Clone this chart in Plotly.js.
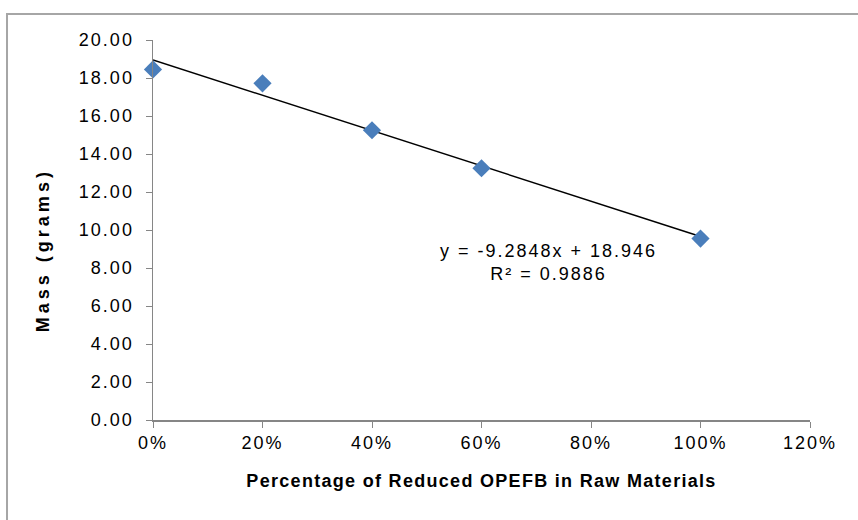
<!DOCTYPE html>
<html>
<head>
<meta charset="utf-8">
<script src="https://cdn.plot.ly/plotly-3.0.1.min.js"></script>
<style>
html,body{margin:0;padding:0;background:#fff;}
#chart{width:858px;height:520px;}
#chart .xtick text, #chart .ytick text{letter-spacing:2px;}
#chart .g-xtitle text{letter-spacing:1.3px;}
#chart .annotation-text{letter-spacing:2px;}
</style>
</head>
<body>
<div id="chart"></div>
<script>
// Data
const percentReduced = [0, 0.2, 0.4, 0.6, 1.0];
const massGrams = [18.45, 17.72, 15.25, 13.25, 9.55];
// Trendline shown on the chart: y = -9.2848x + 18.946
const trendSlope = -9.2848;
const trendIntercept = 18.946;
const trendRange = [0, 1.0];
const yTicks = [0, 2, 4, 6, 8, 10, 12, 14, 16, 18, 20];
const xTicks = [0, 0.2, 0.4, 0.6, 0.8, 1.0, 1.2];
const eqText = 'y = -9.2848x + 18.946';
const r2Text = 'R² = 0.9886';
const xTitle = 'Percentage of Reduced OPEFB in Raw Materials';
const yTitle = 'Mass (grams)';

const trendY = trendRange.map(x => trendSlope * x + trendIntercept);

const traces = [
  {
    x: trendRange, y: trendY, type: 'scatter', mode: 'lines',
    line: {color: '#000000', width: 1.5}, hoverinfo: 'skip', showlegend: false
  },
  {
    x: percentReduced, y: massGrams, type: 'scatter', mode: 'markers',
    marker: {symbol: 'diamond', size: 14, color: '#4A7EBB'}, showlegend: false, cliponaxis: false
  }
];

const tickFont = {family: 'Liberation Sans, Arial, sans-serif', size: 18, color: '#000'};

const layout = {
  width: 858, height: 520,
  margin: {l: 153, r: 48, t: 40, b: 100},
  paper_bgcolor: '#ffffff', plot_bgcolor: '#ffffff',
  showlegend: false,
  xaxis: {
    range: [0, 1.2], tickvals: xTicks, tickformat: '.0%',
    showgrid: false, zeroline: false, showline: true, linecolor: '#868686', linewidth: 1.5,
    ticks: 'outside', ticklen: 6, tickcolor: '#868686', tickwidth: 1,
    tickfont: tickFont, ticklabelstandoff: 0,
    title: {text: '<b>' + xTitle + '</b>', font: {family: 'Liberation Sans, Arial, sans-serif', size: 18, color: '#000'}, standoff: 22}
  },
  yaxis: {
    range: [0, 20], tickvals: yTicks, tickformat: '.2f',
    showgrid: false, zeroline: false, showline: true, linecolor: '#868686', linewidth: 1.5,
    ticks: 'outside', ticklen: 6, tickcolor: '#868686', tickwidth: 1,
    tickfont: tickFont, ticklabelstandoff: 8
  },
  annotations: [
    {xref: 'x', yref: 'y', x: 0.723, y: 8.3, text: eqText + '<br>' + r2Text, showarrow: false,
     font: {family: 'Liberation Sans, Arial, sans-serif', size: 18, color: '#000'}, align: 'center'},
    {xref: 'paper', yref: 'paper', x: -0.1674, y: 0.447, xanchor: 'center', yanchor: 'middle',
     text: '<span style="letter-spacing:4px"><b>' + yTitle + '</b></span>', textangle: -90, showarrow: false,
     font: {family: 'Liberation Sans, Arial, sans-serif', size: 18, color: '#000'}}
  ],
  shapes: [
    {type: 'rect', xref: 'paper', yref: 'paper', x0: -0.2222, x1: 1.2, y0: -0.4, y1: 1.0684,
     line: {color: '#A6A6A6', width: 2}, fillcolor: 'rgba(0,0,0,0)', layer: 'below'}
  ]
};

Plotly.newPlot('chart', traces, layout, {displayModeBar: false, staticPlot: true});
</script>
</body>
</html>
